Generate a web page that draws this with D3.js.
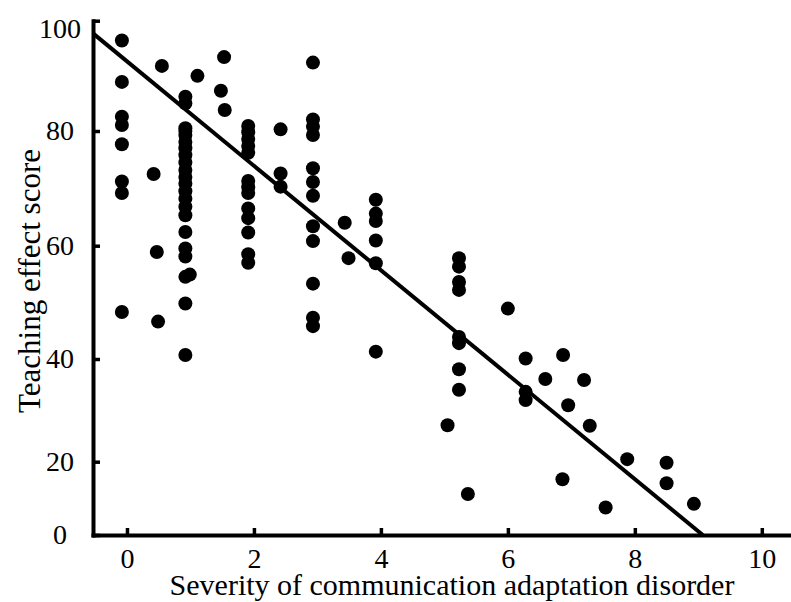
<!DOCTYPE html>
<html>
<head>
<meta charset="utf-8">
<script src="https://cdn.jsdelivr.net/npm/d3@7"></script>
<style>
  body { margin: 0; background: #fff; }
  text { font-family: "Liberation Serif", "Times New Roman", serif; fill: #000; }
</style>
</head>
<body>
<div id="chart"></div>
<script>
"use strict";

// ---------------- data ----------------
var severity = [
    -0.08, -0.08, -0.08, -0.08, -0.08, -0.08, -0.08, -0.08,
    0.42, 0.47, 0.49, 0.55,
    0.92, 0.92, 0.92, 0.92, 0.92, 0.92, 0.92, 0.92, 0.92, 0.92, 0.92, 0.92, 0.92,
    0.92, 0.92, 0.92, 0.92, 0.92, 0.92, 0.92, 0.92, 0.92, 0.99,
    1.11, 1.48, 1.53, 1.54,
    1.91, 1.91, 1.91, 1.91, 1.91, 1.91, 1.91, 1.91, 1.91, 1.91, 1.91, 1.91, 1.91,
    2.42, 2.42, 2.42,
    2.93, 2.93, 2.93, 2.93, 2.93, 2.93, 2.93, 2.93, 2.93, 2.93, 2.93, 2.93,
    3.43, 3.49,
    3.92, 3.92, 3.92, 3.92, 3.92, 3.92,
    5.23, 5.23, 5.23, 5.23, 5.23, 5.23, 5.23, 5.23,
    5.05, 5.37, 6.0,
    6.28, 6.28, 6.28, 6.59,
    6.87, 6.86, 6.95, 7.2, 7.29,
    7.54, 7.88, 8.5, 8.5, 8.93
];
var score = [
    96.4, 88.9, 82.6, 81.1, 77.7, 71.2, 69.2, 48.3,
    72.5, 58.9, 46.6, 91.8,
    86.2, 85.0, 80.5, 79.3, 78.1, 77.0, 75.8, 74.5, 73.2, 72.0, 70.8, 69.5, 68.2,
    66.8, 65.3, 62.4, 59.5, 58.1, 54.5, 49.8, 40.7, 80.0, 54.9,
    90.0, 87.3, 93.4, 83.8,
    80.9, 79.8, 78.6, 77.4, 76.2, 71.3, 70.2, 69.2, 66.5, 64.8, 62.3, 58.5, 57.0,
    80.3, 72.6, 70.3,
    92.4, 82.1, 80.8, 79.3, 73.5, 71.1, 68.7, 63.4, 60.8, 53.3, 47.3, 45.8,
    64.0, 57.8,
    68.0, 65.6, 64.3, 60.9, 56.9, 41.3,
    57.8, 56.3, 53.6, 52.2, 43.9, 42.8, 38.0, 34.0,
    27.1, 11.2, 48.9,
    40.1, 33.6, 32.0, 36.1,
    40.7, 15.2, 31.0, 35.9, 27.0,
    7.5, 20.5, 19.7, 14.1, 8.5
];

// fitted line (start / end)
var fitX = [-0.535, 9.07];
var fitY = [97.7, 0];

var xTicks = [0, 2, 4, 6, 8, 10];
var yTicks = [0, 20, 40, 60, 80, 100];
var xDomain = [-0.535, 10.46];

var xTitle = "Severity of communication adaptation disorder";
var yTitle = "Teaching effect score";

// ---------------- layout ----------------
var W = 791, H = 602;

var svg = d3.select("#chart").append("svg")
    .attr("width", W)
    .attr("height", H);

var xScale = d3.scaleLinear().domain(xDomain).range([93, 791]);
// the printed y axis is not evenly spaced, so map each tick to its place
var yScale = d3.scaleLinear().domain(yTicks).range([535, 461.7, 359, 245.7, 131, 20.7]);

// ---------------- axes ----------------
var xAxis = d3.axisBottom(xScale)
    .tickValues(xTicks)
    .tickSizeInner(-7)
    .tickSizeOuter(0)
    .tickPadding(13)
    .tickFormat(d3.format("d"));

var yAxis = d3.axisLeft(yScale)
    .tickValues(yTicks)
    .tickSizeInner(-7)
    .tickSizeOuter(0)
    .tickPadding(33)
    .tickFormat(d3.format("d"));

var gx = svg.append("g")
    .attr("class", "xaxis")
    .attr("transform", "translate(0," + yScale(0) + ")")
    .call(xAxis);

var gy = svg.append("g")
    .attr("class", "yaxis")
    .attr("transform", "translate(" + xScale(xDomain[0]) + ",0)")
    .call(yAxis);

[gx, gy].forEach(function(g){
    g.select(".domain")
        .attr("stroke", "#000")
        .attr("stroke-width", 4)
        .attr("stroke-linecap", "square");
    g.selectAll(".tick line")
        .attr("stroke", "#000")
        .attr("stroke-width", 3.5);
    g.selectAll(".tick text")
        .attr("font-size", 28)
        .attr("font-family", "Liberation Serif, serif")
        .attr("fill", "#000");
});
gy.selectAll(".tick text")
    .attr("text-anchor", "middle")
    .attr("dy", function(d){ return d === 100 ? "0.6em" : "0.32em"; });

// axis titles
svg.append("text")
    .attr("x", 452)
    .attr("y", 595)
    .attr("text-anchor", "middle")
    .attr("font-size", 30)
    .text(xTitle);

svg.append("text")
    .attr("transform", "translate(40,281)rotate(-90)")
    .attr("text-anchor", "middle")
    .attr("font-size", 31)
    .text(yTitle);

// ---------------- marks ----------------
var points = severity.map(function(d, i){ return [d, score[i]]; });

svg.append("g")
    .selectAll("circle")
    .data(points)
    .enter().append("circle")
    .attr("cx", function(d){ return xScale(d[0]); })
    .attr("cy", function(d){ return yScale(d[1]); })
    .attr("r", 7)
    .attr("fill", "#000");

var line = d3.line()
    .x(function(d){ return xScale(d[0]); })
    .y(function(d){ return yScale(d[1]); });

svg.append("path")
    .datum(fitX.map(function(d, i){ return [d, fitY[i]]; }))
    .attr("d", line)
    .attr("fill", "none")
    .attr("stroke", "#000")
    .attr("stroke-width", 4);
</script>
</body>
</html>
